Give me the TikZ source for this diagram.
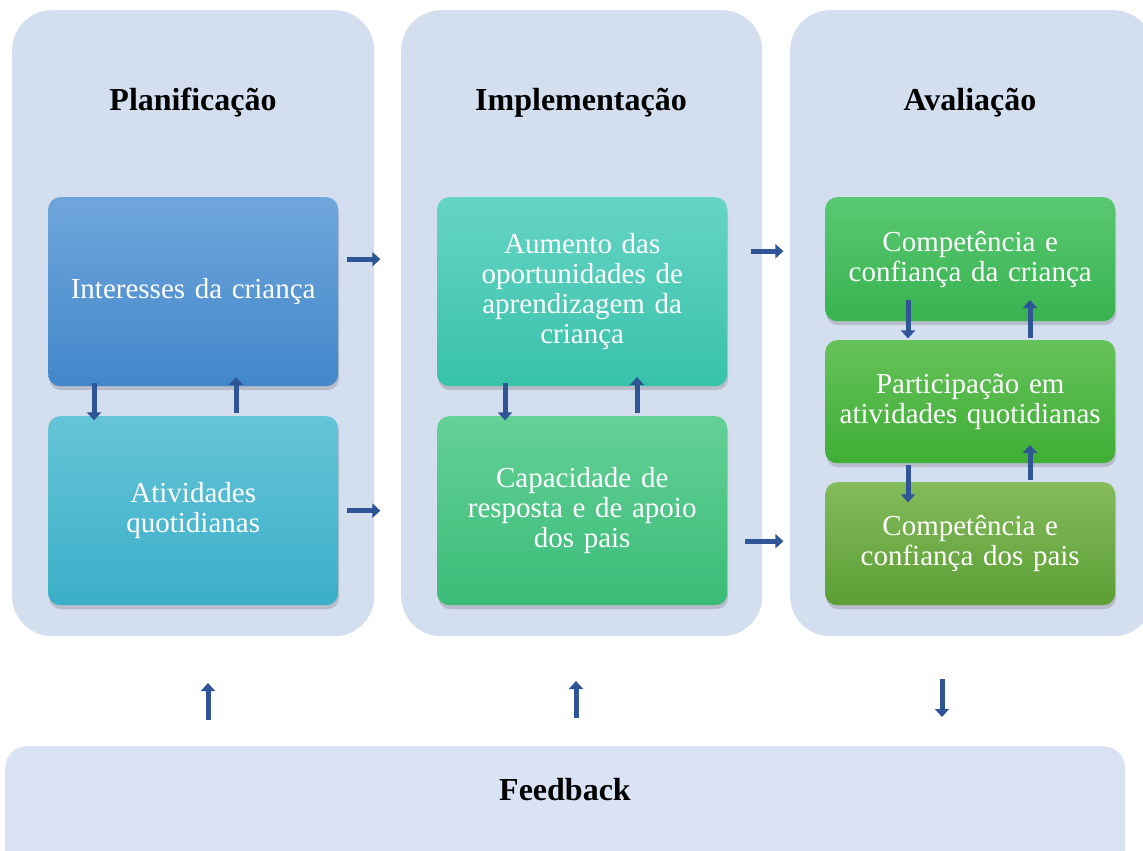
\documentclass[tikz,border=0pt]{standalone}
\usepackage{fontspec}
\setmainfont{Liberation Serif}
\usetikzlibrary{arrows.meta,shadows}
\definecolor{panelbg}{HTML}{D3DEEF}
\definecolor{feedbg}{HTML}{DAE3F3}
\definecolor{arrblue}{HTML}{2F5597}
\tikzset{
  panel/.style={fill=panelbg, rounded corners=40pt, anchor=north west},
  box/.style={rounded corners=12pt, anchor=north west, minimum width=290pt,
    text width=270pt, inner xsep=10pt, align=center, text=white,
    font=\fontsize{29}{30}\selectfont,
    drop shadow={shadow xshift=1pt, shadow yshift=-4pt, opacity=.35}},
  ttl/.style={font=\bfseries\fontsize{32}{34}\selectfont},
  blk/.style={line width=5pt, draw=arrblue, -{Triangle[length=8pt,width=14pt]}}
}

\begin{document}
\begin{tikzpicture}[x=1pt,y=-1pt]
    \useasboundingbox (0,0) rectangle (1143,851);
    % three stages and feedback
    \node[panel, minimum width=362pt, minimum height=626pt] (p1) at (12,10) {};
    \node[panel, minimum width=361pt, minimum height=626pt] (p2) at (401,10) {};
    \node[panel, minimum width=363pt, minimum height=626pt] (p3) at (790,10) {};
    \node[panel, fill=feedbg, rounded corners=22pt, minimum width=1120pt, minimum height=140pt] (fb) at (5,746) {};
    \node[ttl] (t1) at (193,103) {Planificação};
    \node[ttl] (t2) at (581,103) {Implementação};
    \node[ttl] (t3) at (970,103) {Avaliação};
    \node[ttl] (t4) at (565,790) {Feedback};
    % planificacao
    \node[box, minimum height=189pt, top color={rgb,255:red,111;green,166;blue,220}, bottom color={rgb,255:red,66;green,135;blue,202}] (int) at (48,197) {Interesses da criança};
    \node[box, minimum height=189pt, top color={rgb,255:red,102;green,196;blue,216}, bottom color={rgb,255:red,58;green,175;blue,200}] (atv) at (48,416) {Atividades\\quotidianas};
    % implementacao
    \node[box, minimum height=189pt, top color={rgb,255:red,102;green,212;blue,196}, bottom color={rgb,255:red,56;green,194;blue,170}] (aum) at (437,197) {Aumento das\\oportunidades de\\aprendizagem da\\criança};
    \node[box, minimum height=189pt, top color={rgb,255:red,100;green,209;blue,150}, bottom color={rgb,255:red,58;green,187;blue,120}] (cap) at (437,416) {Capacidade de\\resposta e de apoio\\dos pais};
    % avaliacao
    \node[box, minimum height=124pt, top color={rgb,255:red,90;green,200;blue,115}, bottom color={rgb,255:red,56;green,179;blue,79}] (cc) at (825,197) {Competência e\\confiança da criança};
    \node[box, minimum height=123pt, top color={rgb,255:red,102;green,194;blue,90}, bottom color={rgb,255:red,63;green,174;blue,53}] (par) at (825,340) {Participação em\\atividades quotidianas};
    \node[box, minimum height=123pt, top color={rgb,255:red,132;green,187;blue,92}, bottom color={rgb,255:red,92;green,158;blue,52}] (cp) at (825,482) {Competência e\\confiança dos pais};
    % arrows between stages
    \draw[blk] ([shift={(9,-32.5)}]int.east) -- ++(33,0);
    \draw[blk] ([shift={(9,0)}]atv.east) -- ++(33,0);
    \draw[blk] ([shift={(24,-40.5)}]aum.east) -- ++(32,0);
    \draw[blk] ([shift={(18,30.5)}]cap.east) -- ++(38,0);
    % arrows inside stages
    \draw[blk] ([shift={(46,-3)}]int.south west) -- ++(0,37);
    \draw[blk] ([shift={(188,-3)}]atv.north west) -- ++(0,-36);
    \draw[blk] ([shift={(68,-3)}]aum.south west) -- ++(0,37);
    \draw[blk] ([shift={(200,-3)}]cap.north west) -- ++(0,-36);
    \draw[blk] ([shift={(83,-21)}]cc.south west) -- ++(0,38);
    \draw[blk] ([shift={(205,-2)}]par.north west) -- ++(0,-38);
    \draw[blk] ([shift={(83,2)}]par.south west) -- ++(0,37);
    \draw[blk] ([shift={(205,-2)}]cp.north west) -- ++(0,-35);
    % feedback arrows
    \draw[blk] ([shift={(203,-26)}]fb.north west) -- ++(0,-37);
    \draw[blk] ([shift={(571,-28)}]fb.north west) -- ++(0,-37);
    \draw[blk] ([shift={(937,-67)}]fb.north west) -- ++(0,38);
\end{tikzpicture}
\end{document}
